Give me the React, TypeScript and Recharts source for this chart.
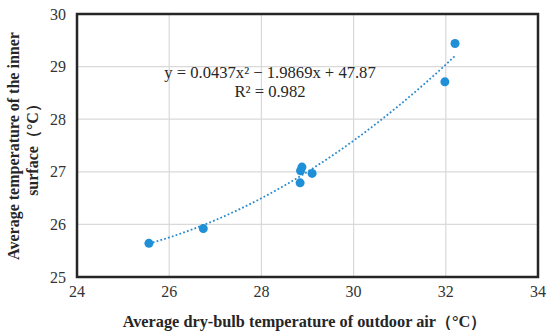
import React from "react";
import {
  ComposedChart,
  Scatter,
  Line,
  XAxis,
  YAxis,
  CartesianGrid,
  ReferenceArea,
} from "recharts";

const outdoorAir = [25.56, 26.74, 28.84, 28.85, 28.88, 29.1, 31.98, 32.2];
const innerSurface = [25.64, 25.92, 26.79, 27.02, 27.09, 26.97, 28.71, 29.44];
const fitCoefficients = [0.0437, -1.9869, 47.87];
const trendXs = [25.56, 26, 26.5, 27, 27.5, 28, 28.5, 29, 29.5, 30, 30.5, 31, 31.5, 32, 32.2];
const xTicks = [24, 26, 28, 30, 32, 34];
const yTicks = [25, 26, 27, 28, 29, 30];
const equationText = "y = 0.0437x² − 1.9869x + 47.87";
const r2Text = "R² = 0.982";
const xTitle = "Average dry-bulb temperature of outdoor air（°C）";
const yTitleLines = ["Average temperature of the inner", "surface（°C）"];

const points = outdoorAir.map((x, i) => ({ x, y: innerSurface[i] }));
const trend = trendXs.map((x) => ({
  x,
  t: fitCoefficients[0] * x * x + fitCoefficients[1] * x + fitCoefficients[2],
}));

const FONT = "'Liberation Serif', 'Times New Roman', serif";
const BLUE = "#1f90d8";

const Dot = (props: any) => {
  const { cx, cy } = props;
  if (cx == null || cy == null) return null;
  return <circle cx={cx} cy={cy} r={4.5} fill={BLUE} />;
};

export default function App() {
  return (
    <div style={{ position: "absolute", left: 0, top: 0, width: 550, height: 335, background: "#fff" }}>
      <ComposedChart
        width={550}
        height={335}
        margin={{ top: 14, right: 12, bottom: 28, left: 0 }}
      >
        <CartesianGrid stroke="#d9d9d9" strokeWidth={1.2} />
        <XAxis
          type="number"
          dataKey="x"
          domain={[24, 34]}
          ticks={xTicks}
          height={30}
          tickLine={false}
          axisLine={false}
          tickMargin={3}
          tick={{ fontFamily: FONT, fontSize: 16, fill: "#333" }}
          allowDataOverflow
          label={{
            content: (p: any) => {
              const vb = p.viewBox;
              return (
                <text
                  x={vb.x + vb.width / 2 - 3}
                  y={327}
                  textAnchor="middle"
                  fontFamily={FONT}
                  fontSize={16.3}
                  fontWeight="bold"
                  fill="#262626"
                >
                  {xTitle}
                </text>
              );
            },
          }}
        />
        <YAxis
          type="number"
          domain={[25, 30]}
          ticks={yTicks}
          width={77}
          tickLine={false}
          axisLine={false}
          tickMargin={5}
          tick={{ fontFamily: FONT, fontSize: 16, fill: "#333" }}
          allowDataOverflow
          label={{
            content: () => (
              <g>
                {yTitleLines.map((line, i) => (
                  <text
                    key={i}
                    x={0}
                    y={0}
                    transform={`translate(${19 + i * 19}, 146) rotate(-90)`}
                    textAnchor="middle"
                    fontFamily={FONT}
                    fontSize={16}
                    fontWeight="bold"
                    fill="#262626"
                  >
                    {line}
                  </text>
                ))}
              </g>
            ),
          }}
        />
        <ReferenceArea
          x1={24}
          x2={34}
          y1={25}
          y2={30}
          fill="none"
          stroke="#262626"
          strokeWidth={2.5}
          ifOverflow="visible"
        />
        <Line
          data={trend}
          dataKey="t"
          type="monotone"
          stroke="#2a8bcc"
          strokeWidth={1.8}
          strokeDasharray="1.8 2.2"
          dot={false}
          activeDot={false}
          isAnimationActive={false}
        />
        <Scatter data={points} dataKey="y" shape={<Dot />} isAnimationActive={false} />
        <text
          x={270}
          y={78}
          textAnchor="middle"
          fontFamily={FONT}
          fontSize={16.6}
          fill="#262626"
        >
          {equationText}
        </text>
        <text x={270} y={97} textAnchor="middle" fontFamily={FONT} fontSize={16.6} fill="#262626">
          {r2Text}
        </text>
      </ComposedChart>
    </div>
  );
}
